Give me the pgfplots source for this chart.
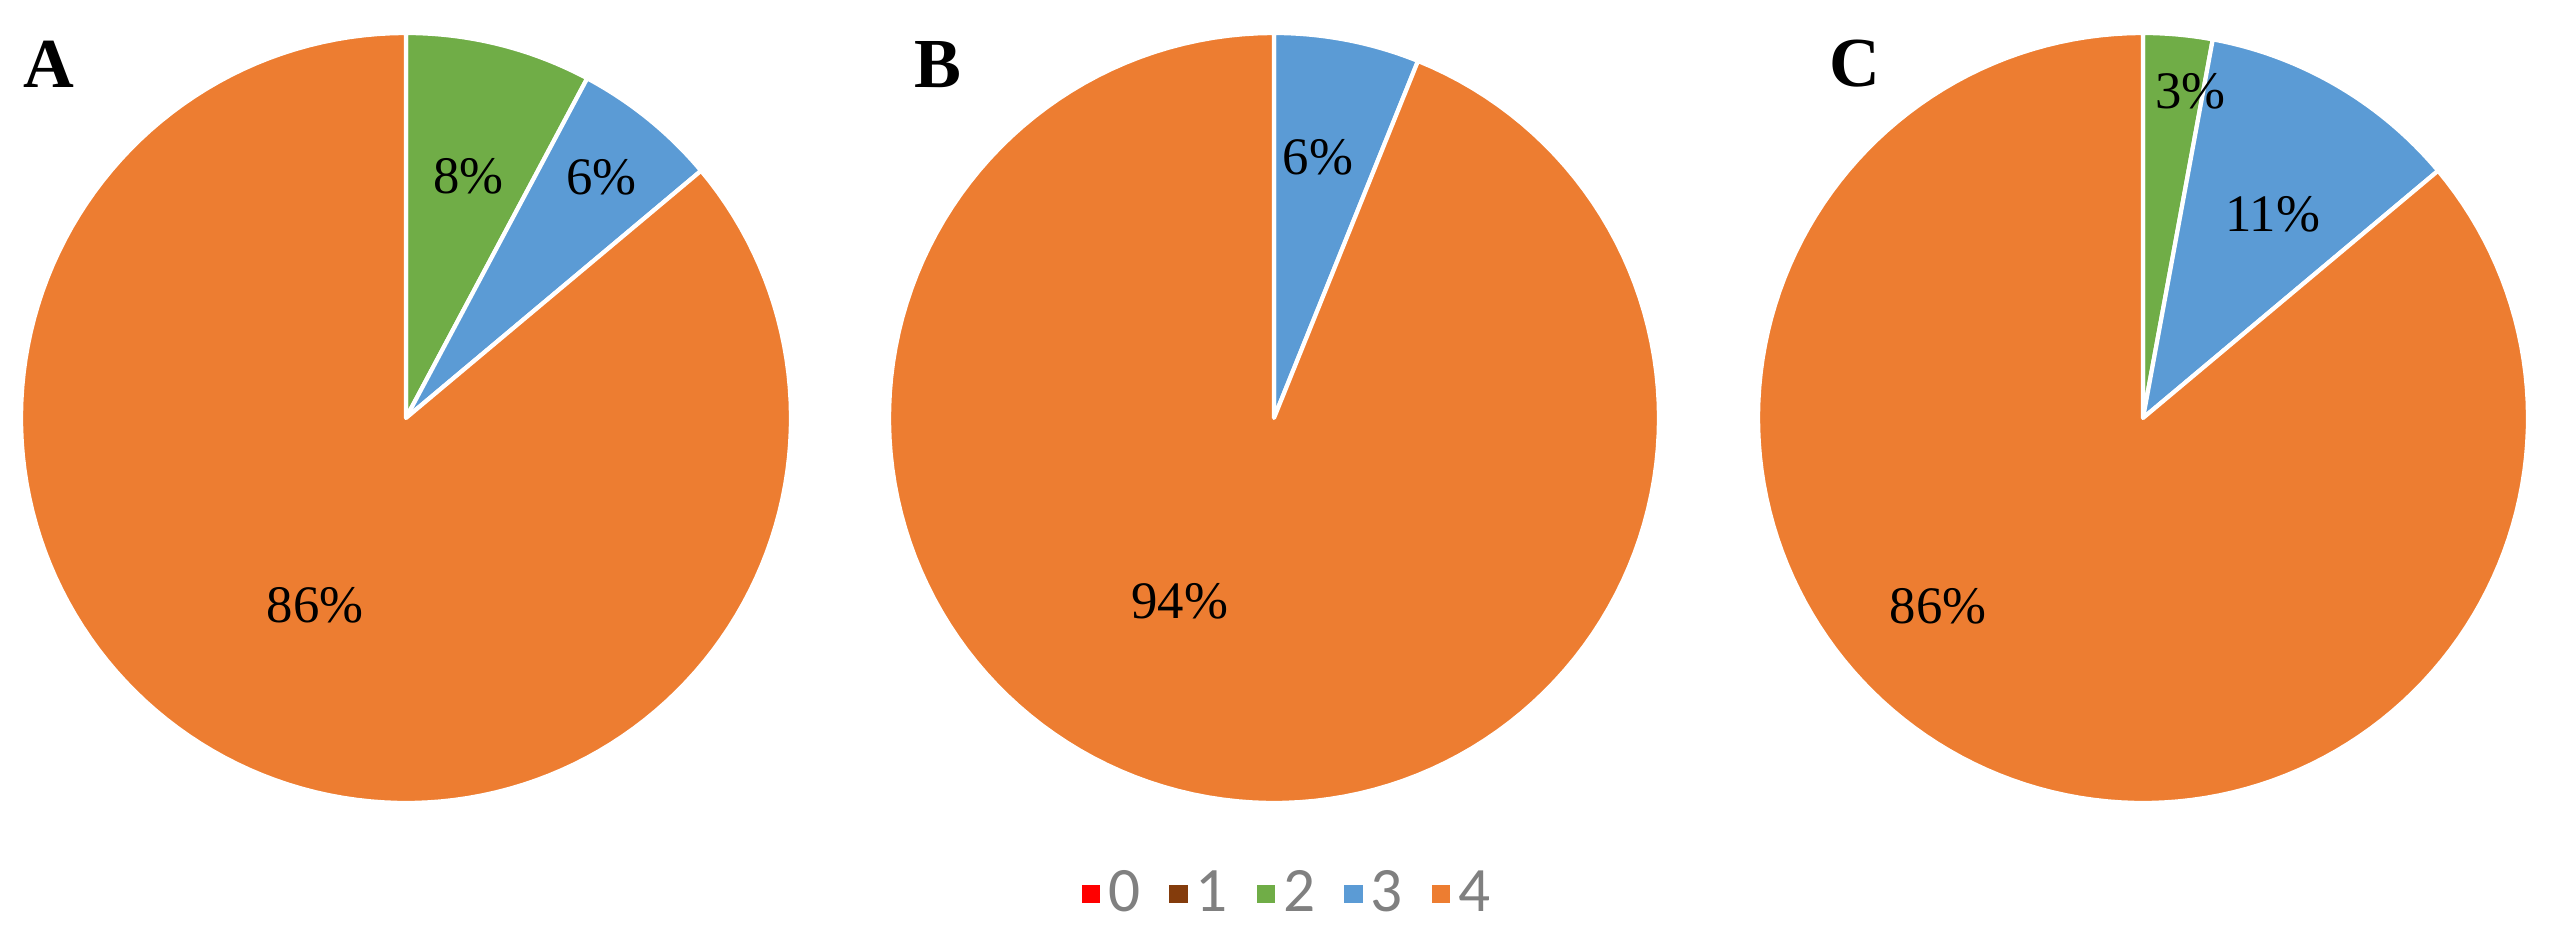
\documentclass[border=0pt]{standalone}
\usepackage{pgfplots}
\pgfplotsset{compat=1.18}
\usepackage{fontspec}
\setmainfont{Liberation Serif}
\newfontfamily\legfont{Carlito}

\definecolor{c0}{HTML}{FF0000}
\definecolor{c1}{HTML}{843C0C}
\definecolor{c2}{HTML}{70AD47}
\definecolor{c3}{HTML}{5B9BD5}
\definecolor{c4}{HTML}{ED7D31}
\definecolor{lgray}{HTML}{808080}

\pgfplotsset{
  pie/.style={hide axis, scale only axis, width=7.7cm, height=7.7cm,
    xmin=-1, xmax=1, ymin=-1, ymax=1, clip=false, anchor=center},
  sq/.style={legend image code/.code={\fill[#1] (0cm,-0.085cm) rectangle (0.17cm,0.085cm);}},
}

% slice: start (cumulative %), share (%), colour
\newcommand\slice[3]{%
  \pgfmathsetmacro\sa{90-3.6*#1}%
  \pgfmathsetmacro\sb{90-3.6*(#1+#2)}%
  \edef\doslice{\noexpand\addplot[forget plot, fill=#3, draw=white, line width=1.2pt,
    line join=round, samples=150, domain=\sb:\sa, variable=\noexpand\t]
    ({cos(\noexpand\t)},{sin(\noexpand\t)}) -- (axis cs:0,0) -- cycle;}%
  \doslice}

\newcommand\pct{\fontsize{15}{18}\selectfont}

\begin{document}
\begin{tikzpicture}
\path[use as bounding box] (0,0) rectangle (25.72,-9.42);

% A
\begin{axis}[pie, at={(4.06cm,-4.18cm)}]
\slice{0}{7.8}{c2}
\slice{7.8}{6.1}{c3}
\slice{13.9}{86.1}{c4}
\node[font=\pct] at (axis cs:0.163,0.628) {8\%};
\node[font=\pct] at (axis cs:0.508,0.625) {6\%};
\node[font=\pct] at (axis cs:-0.236,-0.487) {86\%};
\end{axis}

% B
\begin{axis}[pie, at={(12.74cm,-4.18cm)},
  legend columns=-1,
  legend style={at={(0.521,-0.118)}, anchor=center, draw=none, fill=none,
    font=\legfont\fontsize{18}{21}\selectfont, text=lgray,
    /tikz/every even column/.append style={column sep=0.21cm},
    nodes={inner sep=0.08cm}}]
\slice{0}{6.1}{c3}
\slice{6.1}{93.9}{c4}
\node[font=\pct] at (axis cs:0.114,0.678) {6\%};
\node[font=\pct] at (axis cs:-0.245,-0.475) {94\%};
\addlegendimage{sq=c0}
\addlegendimage{sq=c1}
\addlegendimage{sq=c2}
\addlegendimage{sq=c3}
\addlegendimage{sq=c4}
\legend{0,1,2,3,4}
\end{axis}

% C
\begin{axis}[pie, at={(21.43cm,-4.18cm)}]
\slice{0}{2.9}{c2}
\slice{2.9}{11.0}{c3}
\slice{13.9}{86.1}{c4}
\node[font=\pct] at (axis cs:0.124,0.849) {3\%};
\node[font=\pct] at (axis cs:0.337,0.530) {11\%};
\node[font=\pct] at (axis cs:-0.532,-0.490) {86\%};
\end{axis}

\node[font=\bfseries\fontsize{20}{24}\selectfont] at (0.49,-0.64) {A};
\node[font=\bfseries\fontsize{20}{24}\selectfont] at (9.38,-0.65) {B};
\node[font=\bfseries\fontsize{20}{24}\selectfont] at (18.55,-0.64) {C};
\end{tikzpicture}
\end{document}
